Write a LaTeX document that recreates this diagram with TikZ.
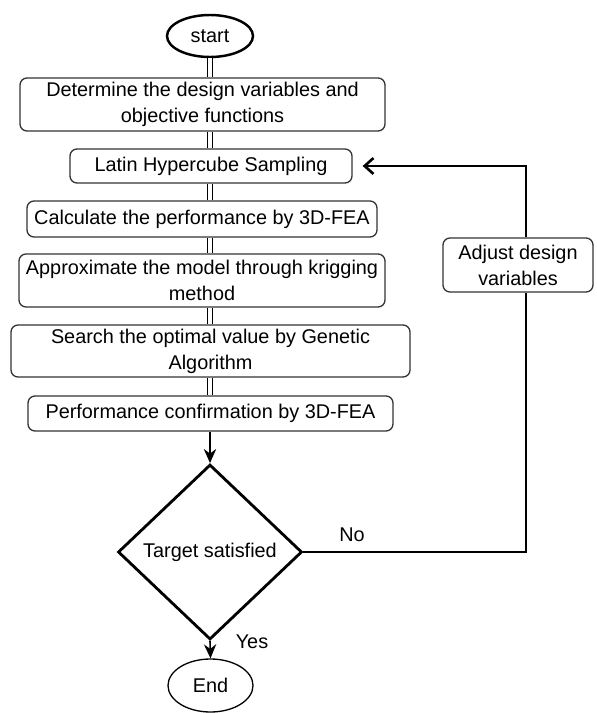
\documentclass[tikz,border=0pt]{standalone}
\usepackage{fontspec}
\setmainfont{Liberation Sans}
\usetikzlibrary{shapes.geometric,arrows.meta}

\begin{document}
\begin{tikzpicture}[>={Stealth[length=8pt,width=7pt]},
    every node/.style={font=\fontsize{11.3}{14.7}\selectfont},
    box/.style={draw=black!80, line width=0.75pt, rounded corners=4pt, align=center, inner sep=0pt},
    term/.style={ellipse, draw, inner sep=0pt},
    link/.style={double, line width=0.6pt, double distance=1.8pt},
    loopline/.style={line width=1.5pt}]
    \useasboundingbox (0,0) rectangle (11.92,-14.26);

    % terminals
    \node[term, line width=1.4pt, minimum width=1.72cm, minimum height=0.84cm] (start) at (4.2,-0.72) {start};
    \node[term, line width=0.75pt, minimum width=1.7cm, minimum height=1.06cm] (end) at (4.21,-13.71) {End};

    % main steps
    \node[box, minimum width=7.3cm, minimum height=1.06cm] (design) at (4.05,-2.09)
        {Determine the design variables and\\ objective functions};
    \node[box, minimum width=5.64cm, minimum height=0.68cm] (latin) at (4.22,-3.32) {Latin Hypercube Sampling};
    \node[box, minimum width=7.0cm, minimum height=0.72cm] (calc) at (4.04,-4.38) {Calculate the performance by 3D-FEA};
    \node[box, minimum width=7.32cm, minimum height=1.06cm] (approx) at (4.04,-5.61)
        {Approximate the model through krigging\\ method};
    \node[box, minimum width=7.98cm, minimum height=1.04cm] (search) at (4.21,-7.02)
        {Search the optimal value by Genetic\\ Algorithm};
    \node[box, minimum width=7.3cm, minimum height=0.70cm] (confirm) at (4.21,-8.27) {Performance confirmation by 3D-FEA};

    \node[diamond, draw, line width=1.6pt, inner sep=0pt, minimum width=3.68cm, minimum height=3.5cm] (target) at (4.2,-11.04) {Target satisfied};
    \node[box, minimum width=3.0cm, minimum height=1.08cm] (adjust) at (10.36,-5.3) {Adjust design\\ variables};

    % double links
    \draw[link] (start.south) -- (start |- design.north);
    \draw[link] (design.south -| start) -- (start |- latin.north);
    \draw[link] (latin.south -| start) -- (start |- calc.north);
    \draw[link] (calc.south -| start) -- (start |- approx.north);
    \draw[link] (approx.south -| start) -- (start |- search.north);
    \draw[link] (search.south -| start) -- (start |- confirm.north);

    \draw[->, line width=0.9pt] (confirm.south -| target) -- (target.north);
    \draw[->, line width=0.9pt] (target.south) -- (end.north);

    % feedback loop
    \draw[loopline] (target.east) -| ([xshift=0.16cm]adjust.south);
    \draw[loopline, -{Straight Barb[length=5pt,width=9pt]}, shorten >=0.2cm]
        ([xshift=0.16cm]adjust.north) |- (latin.east);

    \node at (7.04,-10.7) {No};
    \node at (5.04,-12.84) {Yes};
\end{tikzpicture}
\end{document}
